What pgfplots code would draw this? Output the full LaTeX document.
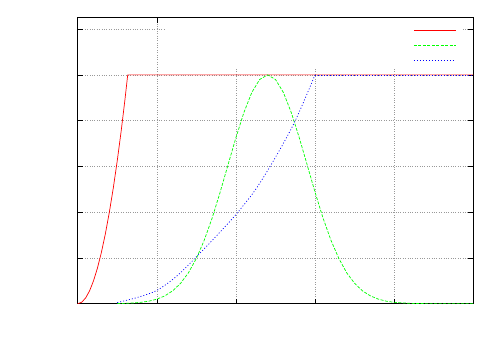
\documentclass[border=0pt]{standalone}
\usepackage{pgfplots}
\pgfplotsset{compat=1.18}
\usetikzlibrary{calc}
\begin{document}
\begin{tikzpicture}
\begin{axis}[
  name=ax,
  scale only axis,
  width=395.6bp, height=286bp,
  xmin=0, xmax=5, ymin=0, ymax=1.25,
  xtick={0,1,2,3,4,5},
  ytick={0,0.2,0.4,0.6,0.8,1.0,1.2},
  xticklabels={}, yticklabels={},
  tick align=inside,
  major tick length=5bp,
  tick style={black, line width=0.6bp},
  grid=major,
  major grid style={gray!80, dotted, line width=0.6bp},
  axis line style={black, line width=1bp},
]
\coordinate (bl) at (rel axis cs:0,0);
\coordinate (tr) at (rel axis cs:1,1);
% key area (opaque, empty titles)
\addplot[draw=none, fill=white, forget plot] coordinates {
(1.116,1.03) (4.874,1.03) (4.874,1.25) (1.116,1.25)} -- cycle;
% key samples
\addplot[color={rgb,255:red,255;green,0;blue,0}, line width=1bp, forget plot] coordinates {(4.25,1.1955) (4.778,1.1955)};
\addplot[color={rgb,255:red,0;green,255;blue,0}, line width=1bp, dash pattern=on 3bp off 1.5bp, forget plot] coordinates {(4.25,1.1285) (4.778,1.1285)};
\addplot[blue, line width=1bp, dash pattern=on 1bp off 2bp, forget plot] coordinates {(4.25,1.061) (4.778,1.061)};
% series
\addplot[red, line width=0.7bp] coordinates {
(0,0) (0.05,0.00625) (0.1,0.025) (0.15,0.056) (0.2,0.1) (0.25,0.156)
(0.3,0.225) (0.35,0.306) (0.4,0.4) (0.45,0.506) (0.5,0.625) (0.55,0.756)
(0.6,0.9) (0.632,1.0) (5,1.0)};
\addplot[green, line width=0.7bp, dash pattern=on 3bp off 1.5bp] coordinates {
(0.5,0.0007) (0.6,0.0015) (0.7,0.0031) (0.8,0.006) (0.9,0.0111) (1.0,0.0198)
(1.1,0.034) (1.2,0.0561) (1.3,0.0889) (1.4,0.1353) (1.5,0.1979) (1.6,0.278)
(1.7,0.375) (1.8,0.487) (1.9,0.607) (2.0,0.726) (2.1,0.835) (2.2,0.923)
(2.3,0.980) (2.4,1.0) (2.5,0.980) (2.6,0.923) (2.7,0.835) (2.8,0.726)
(2.9,0.607) (3.0,0.487) (3.1,0.375) (3.2,0.278) (3.3,0.198) (3.4,0.135)
(3.5,0.089) (3.6,0.056) (3.7,0.034) (3.8,0.020) (3.9,0.011) (4.0,0.006)
(4.2,0.0015) (4.4,0.0003) (4.6,0.0001) (5.0,0)};
\addplot[blue, line width=0.7bp, dash pattern=on 1bp off 2bp, smooth] coordinates {
(0.5,0.005) (0.75,0.027) (1.0,0.058) (1.25,0.12) (1.5,0.205) (1.75,0.295)
(2.0,0.39) (2.25,0.50) (2.5,0.64) (2.75,0.80) (3.0,1.0)};
\addplot[blue, line width=0.7bp, dash pattern=on 1bp off 2bp] coordinates {
(3.0,1.0) (5,1.0)};
\end{axis}
\path ($(bl)+(-77.7bp,-46.3bp)$) rectangle ($(tr)+(26.7bp,17.7bp)$);
\end{tikzpicture}
\end{document}
